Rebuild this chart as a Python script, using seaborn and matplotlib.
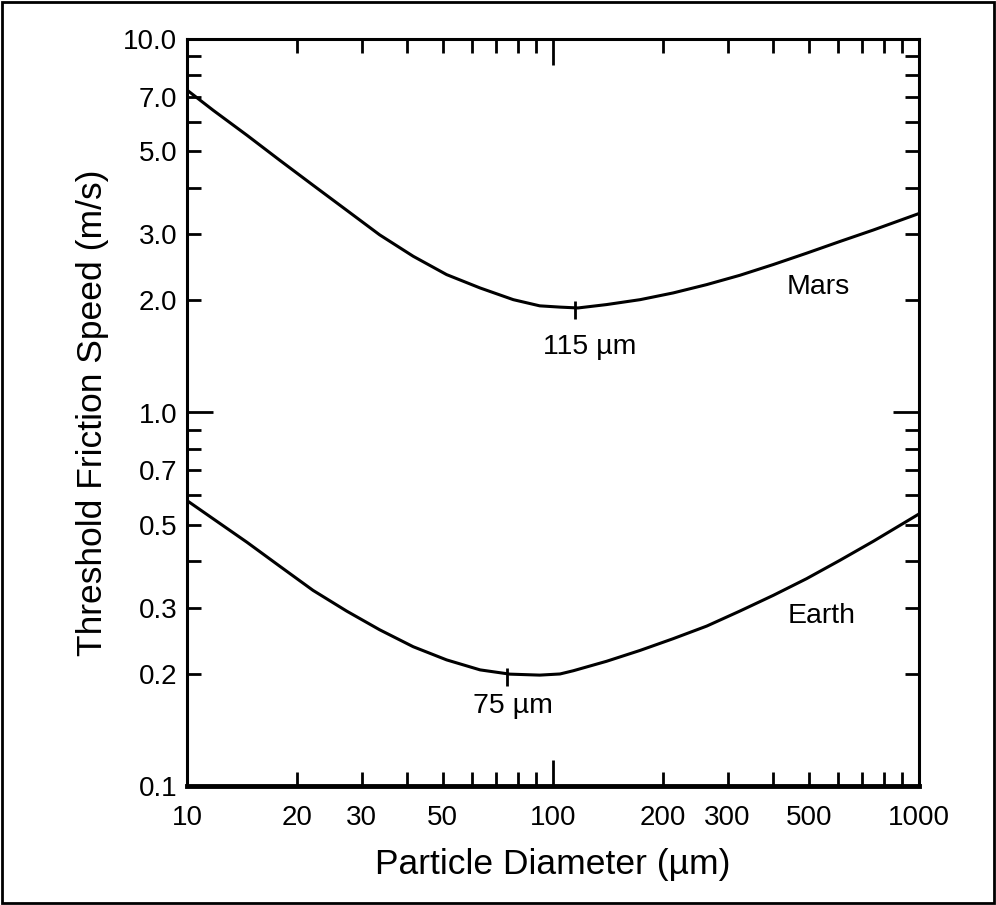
import numpy as np
import pandas as pd
import matplotlib
matplotlib.use("Agg")
import matplotlib.pyplot as plt
import matplotlib.ticker as mticker
from matplotlib.patches import Rectangle
import seaborn as sns

# ---- data ----
mars_d = [10, 11.8, 14.6, 17.9, 22.1, 27.3, 33.6, 41.5, 51.2, 63.2, 77.9, 92, 104.5,
          117, 140, 173, 213, 263, 324, 400, 493, 608, 750, 1000]
mars_u = [7.3, 6.44, 5.52, 4.74, 4.06, 3.48, 2.99, 2.62, 2.34, 2.155, 2.005, 1.93, 1.915,
          1.905, 1.945, 2.005, 2.09, 2.2, 2.33, 2.49, 2.67, 2.87, 3.08, 3.41]
earth_d = [10, 11.8, 14.6, 17.9, 22.1, 27.3, 33.6, 41.5, 51.2, 63.2, 76.2, 92, 104.5,
           113.6, 140, 173, 213, 263, 324, 400, 493, 608, 750, 1000]
earth_u = [0.581, 0.519, 0.449, 0.388, 0.334, 0.294, 0.262, 0.236, 0.2176, 0.2046, 0.1993,
           0.1981, 0.1995, 0.2035, 0.2157, 0.2307, 0.248, 0.268, 0.294, 0.324, 0.359, 0.402,
           0.452, 0.535]

minima_d = [115, 75]
minima_u = [1.886, 0.196]
minima_labels = ["115 µm", "75 µm"]
minima_label_pos = [(126, 1.50), (77.8, 0.164)]

planet_labels = ["Mars", "Earth"]
planet_label_pos = [(530, 2.17), (543, 0.2845)]

x_labeled = [10, 20, 30, 50, 100, 200, 300, 500, 1000]
y_labeled = [0.1, 0.2, 0.3, 0.5, 0.7, 1.0, 2.0, 3.0, 5.0, 7.0, 10.0]
y_label_text = ["0.1", "0.2", "0.3", "0.5", "0.7", "1.0", "2.0", "3.0", "5.0", "7.0", "10.0"]

df = pd.concat([
    pd.DataFrame({"d": mars_d, "u": mars_u, "planet": "Mars"}),
    pd.DataFrame({"d": earth_d, "u": earth_u, "planet": "Earth"}),
])

sns.set_style("ticks")
plt.rcParams["font.family"] = ["Liberation Sans", "DejaVu Sans"]
plt.rcParams["text.color"] = "black"
plt.rcParams["axes.labelcolor"] = "black"

fig = plt.figure(figsize=(9.96, 9.05), dpi=100)
ax = fig.add_axes([187/996, 1-786/905, (919-187)/996, (786-39)/905])

sns.lineplot(data=df, x="d", y="u", units="planet", estimator=None,
             color="black", linewidth=2.2, ax=ax, legend=False, sort=False)

ax.set_xscale("log")
ax.set_yscale("log")
ax.set_xlim(10, 1000)
ax.set_ylim(0.1, 10)

# ticks
ax.xaxis.set_major_locator(mticker.LogLocator(base=10, numticks=10))
ax.xaxis.set_minor_locator(mticker.LogLocator(base=10, subs=np.arange(2, 10), numticks=20))
ax.yaxis.set_major_locator(mticker.LogLocator(base=10, numticks=10))
ax.yaxis.set_minor_locator(mticker.LogLocator(base=10, subs=np.arange(2, 10), numticks=20))

def xfmt(v, pos):
    for t in x_labeled:
        if abs(v - t) / t < 1e-6:
            return f"{t:g}"
    return ""

def yfmt(v, pos):
    for t, s in zip(y_labeled, y_label_text):
        if abs(v - t) / t < 1e-6:
            return s
    return ""

for axis, f in ((ax.xaxis, xfmt), (ax.yaxis, yfmt)):
    axis.set_major_formatter(mticker.FuncFormatter(f))
    axis.set_minor_formatter(mticker.FuncFormatter(f))

ax.tick_params(which="both", direction="in", top=True, right=True,
               width=2.0, labelsize=20, colors="black", labelcolor="black")
ax.tick_params(axis="y", which="both", pad=7)
ax.tick_params(axis="x", which="both", pad=14)
ax.tick_params(which="major", length=19)
ax.tick_params(which="minor", length=10)

for s in ax.spines.values():
    s.set_linewidth(2.2)
    s.set_color("black")
ax.spines["bottom"].set_linewidth(3.5)

ax.set_xlabel("Particle Diameter (µm)", fontsize=25.5, labelpad=12, color="black")
ax.set_ylabel("Threshold Friction Speed (m/s)", fontsize=25.5, labelpad=10, color="black")

# minima markers and labels
ax.plot(minima_d, minima_u, linestyle="none", marker="|", markersize=13,
        markeredgewidth=2, color="black")
for (x, y), s in zip(minima_label_pos, minima_labels):
    ax.text(x, y, s, fontsize=20.5, ha="center", va="center", color="black")
for (x, y), s in zip(planet_label_pos, planet_labels):
    ax.text(x, y, s, fontsize=20.5, ha="center", va="center", color="black")

# outer frame
fig.patches.append(Rectangle((0.002, 0.002), 0.996, 0.996, transform=fig.transFigure,
                             fill=False, edgecolor="black", linewidth=2))

fig.savefig("out.png", dpi=100)
